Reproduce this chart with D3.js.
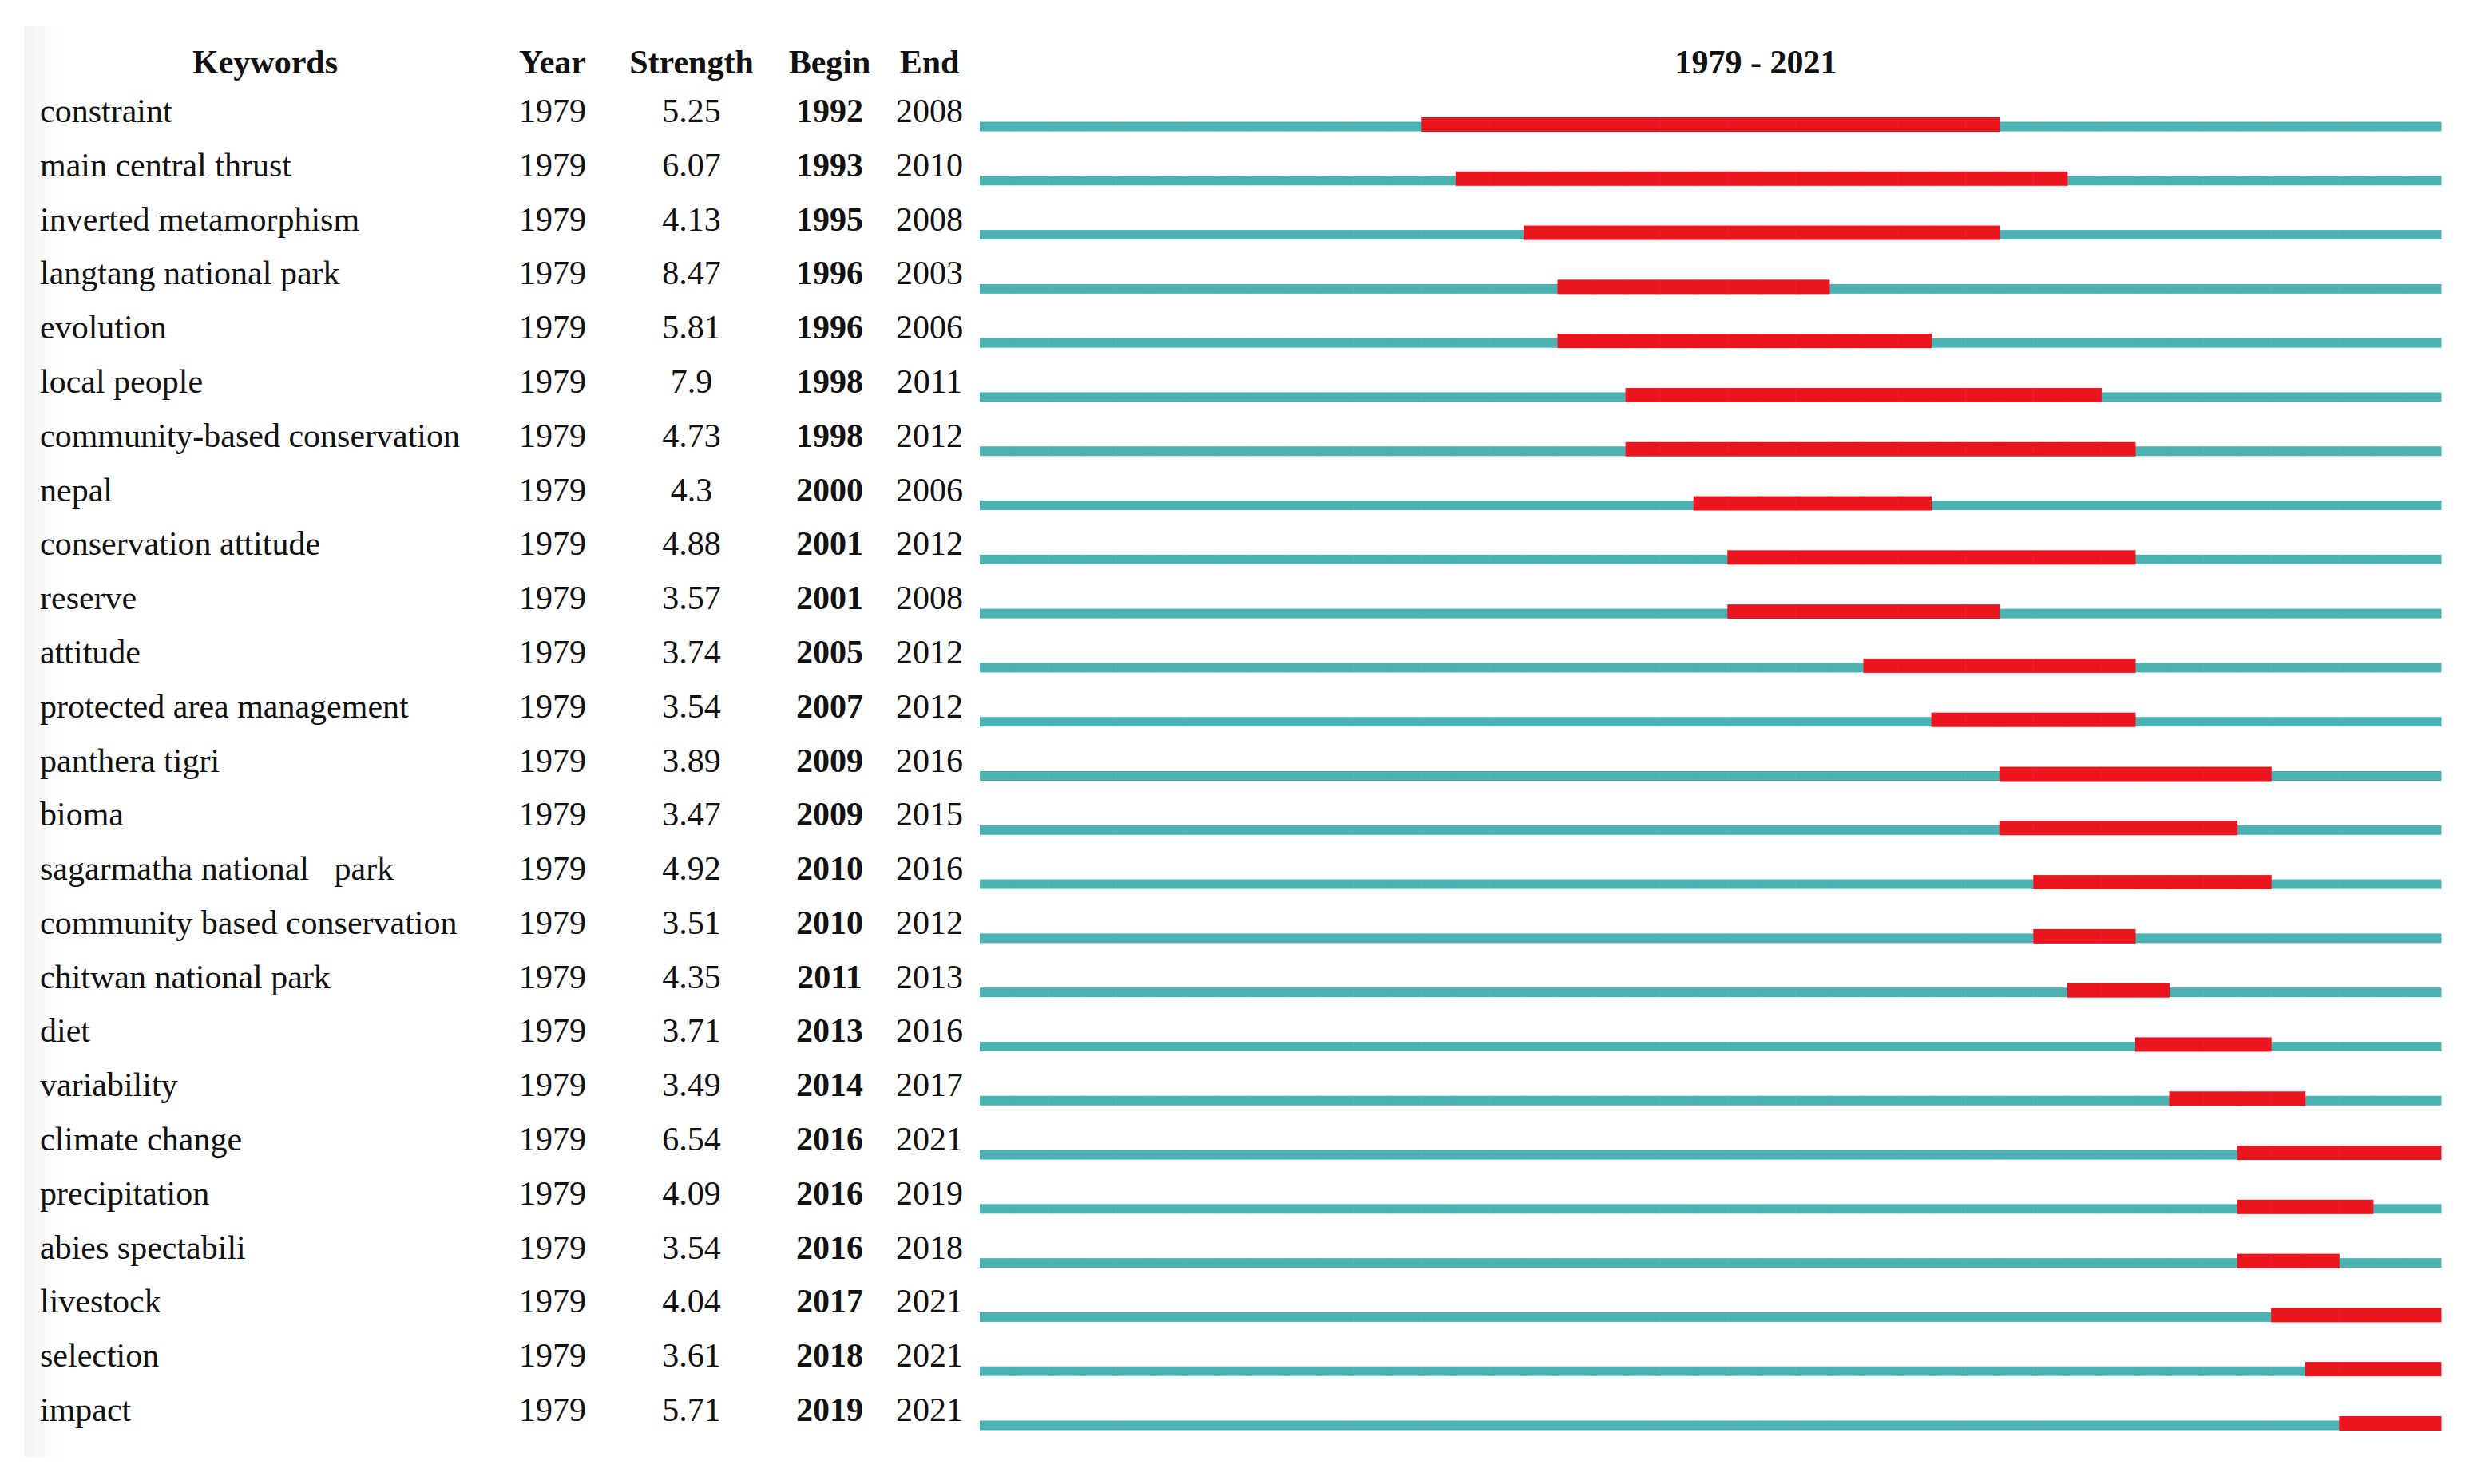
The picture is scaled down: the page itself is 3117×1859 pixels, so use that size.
<!DOCTYPE html>
<html>
<head>
<meta charset="utf-8">
<script src="https://cdn.jsdelivr.net/npm/d3@7"></script>
<style>
html,body{margin:0;padding:0;background:#fff;}
svg{display:block;}
text{font-family:"Liberation Serif","Times New Roman",serif;white-space:pre;fill:#111;}
</style>
</head>
<body>
<svg id="chart" width="3117" height="1859"></svg>
<script>
const keywords = ["constraint","main central thrust","inverted metamorphism","langtang national park","evolution","local people","community-based conservation","nepal","conservation attitude","reserve","attitude","protected area management","panthera tigri","bioma","sagarmatha national   park","community based conservation","chitwan national park","diet","variability","climate change","precipitation","abies spectabili","livestock","selection","impact"];
const firstYear = [1979,1979,1979,1979,1979,1979,1979,1979,1979,1979,1979,1979,1979,1979,1979,1979,1979,1979,1979,1979,1979,1979,1979,1979,1979];
const strength = ["5.25","6.07","4.13","8.47","5.81","7.9","4.73","4.3","4.88","3.57","3.74","3.54","3.89","3.47","4.92","3.51","4.35","3.71","3.49","6.54","4.09","3.54","4.04","3.61","5.71"];
const beginYear = [1992,1993,1995,1996,1996,1998,1998,2000,2001,2001,2005,2007,2009,2009,2010,2010,2011,2013,2014,2016,2016,2016,2017,2018,2019];
const endYear = [2008,2010,2008,2003,2006,2011,2012,2006,2012,2008,2012,2012,2016,2015,2016,2012,2013,2016,2017,2021,2019,2018,2021,2021,2021];
const headers = ["Keywords","Year","Strength","Begin","End"];
const rangeStart = 1979, rangeEnd = 2021;

const rows = keywords.map((k,i)=>({k, y:firstYear[i], s:strength[i], b:beginYear[i], e:endYear[i], i}));
const years = d3.range(rangeStart, rangeEnd+1);

const svg = d3.select("#chart");
svg.append("rect").attr("width",3117).attr("height",1859).attr("fill","#fff");
const defs = svg.append("defs");
const grad = defs.append("linearGradient").attr("id","lg").attr("x1","0").attr("x2","1").attr("y1","0").attr("y2","0");
grad.append("stop").attr("offset","0").attr("stop-color","#f3f3f3");
grad.append("stop").attr("offset","1").attr("stop-color","#ffffff");
svg.append("rect").attr("x",30).attr("y",32).attr("width",45).attr("height",1793).attr("fill","url(#lg)");

const x = d3.scaleBand().domain(years).range([1227,3057]).padding(0);
const yRow = d3.scalePoint().domain(d3.range(rows.length)).range([153,1780]);

const FS = 42;
const headerY = 92;
const cols = {Keywords:{x:332,anchor:"middle"},Year:{x:692,anchor:"middle"},Strength:{x:866,anchor:"middle"},Begin:{x:1039,anchor:"middle"},End:{x:1164,anchor:"middle"}};

headers.forEach(h=>{
  svg.append("text").attr("x",cols[h].x).attr("y",headerY).attr("text-anchor",cols[h].anchor)
    .attr("font-size",FS).attr("font-weight","bold").text(h);
});
svg.append("text").attr("x",2199).attr("y",headerY).attr("text-anchor","middle")
  .attr("font-size",FS).attr("font-weight","bold").text(rangeStart+" - "+rangeEnd);

const g = svg.selectAll("g.row").data(rows).join("g").attr("class","row")
  .attr("transform",d=>`translate(0,${yRow(d.i)})`);

g.append("text").attr("x",50).attr("font-size",FS).text(d=>d.k);
g.append("text").attr("x",692).attr("text-anchor","middle").attr("font-size",FS).text(d=>d.y);
g.append("text").attr("x",866).attr("text-anchor","middle").attr("font-size",FS).text(d=>d.s);
g.append("text").attr("x",1039).attr("text-anchor","middle").attr("font-size",FS).attr("font-weight","bold").text(d=>d.b);
g.append("text").attr("x",1164).attr("text-anchor","middle").attr("font-size",FS).text(d=>d.e);

g.each(function(d){
  const sel = d3.select(this);
  sel.selectAll("rect.base").data(years.filter(yr=>yr<d.b||yr>d.e)).join("rect").attr("class","base")
    .attr("x",yr=>x(yr)).attr("width",x.bandwidth()+0.5).attr("y",-0.5).attr("height",12)
    .attr("fill","#4cb1b3");
  sel.selectAll("rect.burst").data(years.filter(yr=>yr>=d.b&&yr<=d.e)).join("rect").attr("class","burst")
    .attr("x",yr=>x(yr)).attr("width",x.bandwidth()+0.5).attr("y",-6).attr("height",18)
    .attr("fill","#ea151f");
});
</script>
</body>
</html>
